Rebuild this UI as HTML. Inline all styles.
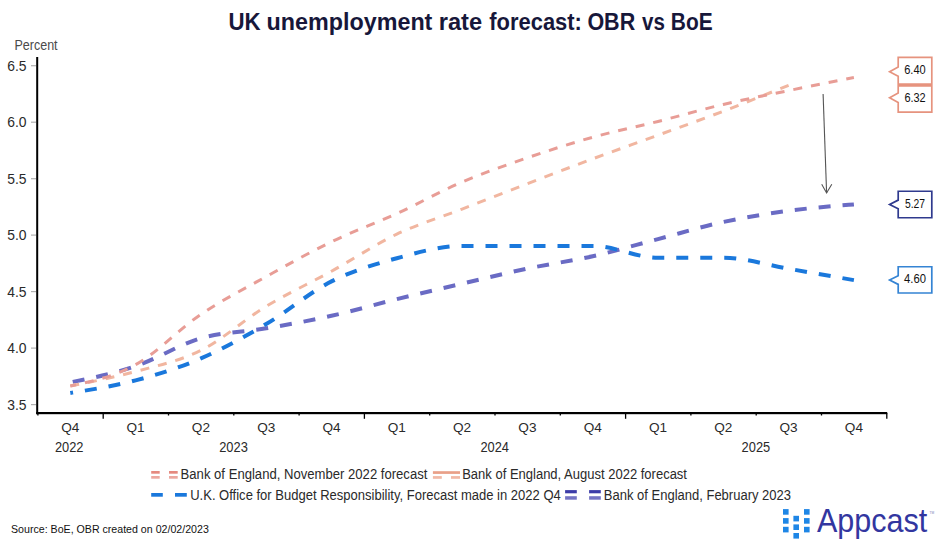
<!DOCTYPE html>
<html><head><meta charset="utf-8"><style>
html,body{margin:0;padding:0;background:#fff;width:941px;height:546px;overflow:hidden}
svg{display:block;font-family:"Liberation Sans", sans-serif}
</style></head><body>
<svg width="941" height="546" viewBox="0 0 941 546">
<text x="228.40" y="29.7" font-weight="bold" font-size="23.5" fill="#17173a" textLength="32.20" lengthAdjust="spacingAndGlyphs">UK</text>
<text x="266.60" y="29.7" font-weight="bold" font-size="23.5" fill="#17173a" textLength="165.80" lengthAdjust="spacingAndGlyphs">unemployment</text>
<text x="438.70" y="29.7" font-weight="bold" font-size="23.5" fill="#17173a" textLength="43.40" lengthAdjust="spacingAndGlyphs">rate</text>
<text x="489.30" y="29.7" font-weight="bold" font-size="23.5" fill="#17173a" textLength="92.60" lengthAdjust="spacingAndGlyphs">forecast:</text>
<text x="587.40" y="29.7" font-weight="bold" font-size="23.5" fill="#17173a" textLength="47.80" lengthAdjust="spacingAndGlyphs">OBR</text>
<text x="642.00" y="29.7" font-weight="bold" font-size="23.5" fill="#17173a" textLength="22.80" lengthAdjust="spacingAndGlyphs">vs</text>
<text x="670.80" y="29.7" font-weight="bold" font-size="23.5" fill="#17173a" textLength="41.80" lengthAdjust="spacingAndGlyphs">BoE</text>
<text x="14.4" y="49.8" font-size="14.2" fill="#4a4a4a" textLength="43.2" lengthAdjust="spacingAndGlyphs">Percent</text>
<line x1="31" y1="65.7" x2="36" y2="65.7" stroke="#b0b0b0" stroke-width="1.2"/>
<text x="26.6" y="70.6" text-anchor="end" font-size="13.9" fill="#2a2a2a">6.5</text>
<line x1="31" y1="122.2" x2="36" y2="122.2" stroke="#b0b0b0" stroke-width="1.2"/>
<text x="26.6" y="127.1" text-anchor="end" font-size="13.9" fill="#2a2a2a">6.0</text>
<line x1="31" y1="178.7" x2="36" y2="178.7" stroke="#b0b0b0" stroke-width="1.2"/>
<text x="26.6" y="183.6" text-anchor="end" font-size="13.9" fill="#2a2a2a">5.5</text>
<line x1="31" y1="235.1" x2="36" y2="235.1" stroke="#b0b0b0" stroke-width="1.2"/>
<text x="26.6" y="240.0" text-anchor="end" font-size="13.9" fill="#2a2a2a">5.0</text>
<line x1="31" y1="291.6" x2="36" y2="291.6" stroke="#b0b0b0" stroke-width="1.2"/>
<text x="26.6" y="296.5" text-anchor="end" font-size="13.9" fill="#2a2a2a">4.5</text>
<line x1="31" y1="348.1" x2="36" y2="348.1" stroke="#b0b0b0" stroke-width="1.2"/>
<text x="26.6" y="353.0" text-anchor="end" font-size="13.9" fill="#2a2a2a">4.0</text>
<line x1="31" y1="404.6" x2="36" y2="404.6" stroke="#b0b0b0" stroke-width="1.2"/>
<text x="26.6" y="409.5" text-anchor="end" font-size="13.9" fill="#2a2a2a">3.5</text>
<rect x="36.2" y="57" width="2" height="357.2" fill="#000"/>
<rect x="36.2" y="412" width="851" height="2.2" fill="#000"/>
<line x1="37.9" y1="413" x2="37.9" y2="415.5" stroke="#000" stroke-width="1.3"/>
<line x1="103.2" y1="413" x2="103.2" y2="418.8" stroke="#000" stroke-width="1.3"/>
<line x1="168.5" y1="413" x2="168.5" y2="415.5" stroke="#000" stroke-width="1.3"/>
<line x1="233.8" y1="413" x2="233.8" y2="415.5" stroke="#000" stroke-width="1.3"/>
<line x1="299.1" y1="413" x2="299.1" y2="415.5" stroke="#000" stroke-width="1.3"/>
<line x1="364.4" y1="413" x2="364.4" y2="418.8" stroke="#000" stroke-width="1.3"/>
<line x1="429.7" y1="413" x2="429.7" y2="415.5" stroke="#000" stroke-width="1.3"/>
<line x1="495.0" y1="413" x2="495.0" y2="415.5" stroke="#000" stroke-width="1.3"/>
<line x1="560.3" y1="413" x2="560.3" y2="415.5" stroke="#000" stroke-width="1.3"/>
<line x1="625.6" y1="413" x2="625.6" y2="418.8" stroke="#000" stroke-width="1.3"/>
<line x1="690.9" y1="413" x2="690.9" y2="415.5" stroke="#000" stroke-width="1.3"/>
<line x1="756.2" y1="413" x2="756.2" y2="415.5" stroke="#000" stroke-width="1.3"/>
<line x1="821.5" y1="413" x2="821.5" y2="415.5" stroke="#000" stroke-width="1.3"/>
<line x1="886.8" y1="413" x2="886.8" y2="418.8" stroke="#000" stroke-width="1.3"/>
<text x="70.3" y="432.4" text-anchor="middle" font-size="13.6" fill="#2a2a2a">Q4</text>
<text x="135.6" y="432.4" text-anchor="middle" font-size="13.6" fill="#2a2a2a">Q1</text>
<text x="200.9" y="432.4" text-anchor="middle" font-size="13.6" fill="#2a2a2a">Q2</text>
<text x="266.2" y="432.4" text-anchor="middle" font-size="13.6" fill="#2a2a2a">Q3</text>
<text x="331.5" y="432.4" text-anchor="middle" font-size="13.6" fill="#2a2a2a">Q4</text>
<text x="396.8" y="432.4" text-anchor="middle" font-size="13.6" fill="#2a2a2a">Q1</text>
<text x="462.1" y="432.4" text-anchor="middle" font-size="13.6" fill="#2a2a2a">Q2</text>
<text x="527.4" y="432.4" text-anchor="middle" font-size="13.6" fill="#2a2a2a">Q3</text>
<text x="592.7" y="432.4" text-anchor="middle" font-size="13.6" fill="#2a2a2a">Q4</text>
<text x="658.0" y="432.4" text-anchor="middle" font-size="13.6" fill="#2a2a2a">Q1</text>
<text x="723.3" y="432.4" text-anchor="middle" font-size="13.6" fill="#2a2a2a">Q2</text>
<text x="788.6" y="432.4" text-anchor="middle" font-size="13.6" fill="#2a2a2a">Q3</text>
<text x="853.9" y="432.4" text-anchor="middle" font-size="13.6" fill="#2a2a2a">Q4</text>
<text x="54.9" y="452" font-size="14.3" fill="#2a2a2a" textLength="28.6" lengthAdjust="spacingAndGlyphs">2022</text>
<text x="219.2" y="452" font-size="14.3" fill="#2a2a2a" textLength="28.6" lengthAdjust="spacingAndGlyphs">2023</text>
<text x="480.4" y="452" font-size="14.3" fill="#2a2a2a" textLength="28.6" lengthAdjust="spacingAndGlyphs">2024</text>
<text x="741.6" y="452" font-size="14.3" fill="#2a2a2a" textLength="28.6" lengthAdjust="spacingAndGlyphs">2025</text>
<path d="M70.30,382.41 C92.07,377.97 113.83,373.54 135.60,366.17 C157.37,358.80 179.13,344.50 200.90,338.20 C222.67,331.89 244.43,332.06 266.20,328.33 C287.97,324.60 309.73,320.69 331.50,315.82 C353.27,310.94 375.03,304.44 396.80,299.09 C418.57,293.74 440.33,288.80 462.10,283.71 C483.87,278.62 505.63,273.14 527.40,268.56 C549.17,263.98 570.93,261.12 592.70,256.21 C614.47,251.30 636.23,244.79 658.00,239.08 C679.77,233.38 701.53,226.67 723.30,221.96 C745.07,217.25 766.83,213.73 788.60,210.81 C810.37,207.89 832.13,206.16 853.90,204.44" fill="none" stroke="#6a6bc4" stroke-width="4" stroke-dasharray="12 12" stroke-dashoffset="21.5"/>
<path d="M70.30,392.95 C92.07,389.52 113.83,386.09 135.60,380.34 C157.37,374.59 179.13,367.84 200.90,358.45 C222.67,349.07 244.43,336.88 266.20,324.04 C287.97,311.20 309.73,292.37 331.50,281.40 C353.27,270.43 375.03,264.14 396.80,258.22 C418.57,252.30 440.33,245.90 462.10,245.90 C483.87,245.90 505.63,245.90 527.40,245.90 C549.17,245.90 570.93,245.90 592.70,245.90 C614.47,245.90 636.23,257.74 658.00,257.74 C679.77,257.74 701.53,257.74 723.30,257.74 C745.07,257.74 766.83,265.02 788.60,268.75 C810.37,272.48 832.13,276.30 853.90,280.12" fill="none" stroke="#1a78dc" stroke-width="4" stroke-dasharray="12 12" stroke-dashoffset="9.2"/>
<path d="M70.30,385.89 C92.07,381.66 113.83,377.42 135.60,371.50 C157.37,365.59 179.13,361.27 200.90,350.40 C222.67,339.54 244.43,319.49 266.20,306.30 C287.97,293.10 309.73,283.25 331.50,271.23 C353.27,259.21 375.03,244.53 396.80,234.17 C418.57,223.81 440.33,217.46 462.10,209.05 C483.87,200.65 505.63,192.11 527.40,183.74 C549.17,175.37 570.93,166.92 592.70,158.84 C614.47,150.75 636.23,143.15 658.00,135.21 C679.77,127.27 701.53,119.52 723.30,111.20 C745.07,102.88 766.83,94.09 788.60,85.30" fill="none" stroke="#f1b6a0" stroke-width="3" stroke-dasharray="9 9"/>
<path d="M70.30,386.09 C92.07,381.37 113.83,376.65 135.60,364.69 C157.37,352.73 179.13,329.03 200.90,314.35 C222.67,299.68 244.43,288.73 266.20,276.64 C287.97,264.54 309.73,252.29 331.50,241.78 C353.27,231.26 375.03,223.52 396.80,213.57 C418.57,203.62 440.33,191.37 462.10,182.07 C483.87,172.78 505.63,165.27 527.40,157.80 C549.17,150.33 570.93,143.30 592.70,137.24 C614.47,131.18 636.23,126.91 658.00,121.43 C679.77,115.96 701.53,109.56 723.30,104.42 C745.07,99.28 766.83,95.08 788.60,90.60 C810.37,86.12 832.13,81.82 853.90,77.52" fill="none" stroke="#e89d96" stroke-width="3" stroke-dasharray="9 9" stroke-dashoffset="3"/>
<line x1="823.1" y1="94" x2="826.6" y2="193" stroke="#555" stroke-width="1.1"/>
<polyline points="821.7,184.2 826.6,193 831.8,184.2" fill="none" stroke="#555" stroke-width="1.1"/>
<path d="M898.2,57.4 L931.8,57.4 L931.8,84.2 L898.2,84.2 L898.2,76.3 L889.6,71.7 L898.2,67.10000000000001 Z" fill="#fff" stroke="#e6937e" stroke-width="1.7"/>
<text x="904.2" y="74.3" font-size="12" fill="#111" textLength="21.5" lengthAdjust="spacingAndGlyphs">6.40</text>
<path d="M898.2,85.8 L931.8,85.8 L931.8,112.1 L898.2,112.1 L898.2,102.5 L889.6,97.7 L898.2,92.9 Z" fill="#fff" stroke="#e6937e" stroke-width="1.7"/>
<text x="904.4" y="102.4" font-size="12" fill="#111" textLength="21.3" lengthAdjust="spacingAndGlyphs">6.32</text>
<path d="M898.2,191.25 L931.8,191.25 L931.8,217.75 L898.2,217.75 L898.2,208.70000000000002 L889.6,204.4 L898.2,200.1 Z" fill="#fff" stroke="#2f3a8e" stroke-width="1.7"/>
<text x="905.0" y="208.0" font-size="12" fill="#111" textLength="20.1" lengthAdjust="spacingAndGlyphs">5.27</text>
<path d="M898.2,266.75 L931.8,266.75 L931.8,293 L898.2,293 L898.2,284.40000000000003 L889.6,280.1 L898.2,275.8 Z" fill="#fff" stroke="#3584d4" stroke-width="1.7"/>
<text x="904.0" y="283.4" font-size="12" fill="#111" textLength="21.9" lengthAdjust="spacingAndGlyphs">4.60</text>
<rect x="151.2" y="471" width="8.5" height="2.7" fill="#e58a80"/><rect x="151.2" y="476" width="8.5" height="2.7" fill="#eca8a0"/>
<rect x="169" y="471" width="8.7" height="2.7" fill="#e58a80"/><rect x="169" y="476" width="8.7" height="2.7" fill="#eca8a0"/>
<text x="180.6" y="478.9" font-size="13.8" fill="#2a2a2a" textLength="246.8" lengthAdjust="spacingAndGlyphs">Bank of England, November 2022 forecast</text>
<rect x="432.9" y="471.2" width="27.1" height="2.7" fill="#e9a088"/><rect x="432.9" y="476.1" width="8.9" height="2.7" fill="#f1b9a6"/><rect x="451" y="476.1" width="9" height="2.7" fill="#f1b9a6"/>
<text x="462.2" y="478.9" font-size="13.8" fill="#2a2a2a" textLength="224.8" lengthAdjust="spacingAndGlyphs">Bank of England, August 2022 forecast</text>
<rect x="151.2" y="493" width="11.6" height="3.7" fill="#1a78dc"/><rect x="175" y="493" width="11.8" height="3.7" fill="#1a78dc"/>
<text x="190.2" y="499.9" font-size="13.8" fill="#2a2a2a" textLength="370.6" lengthAdjust="spacingAndGlyphs">U.K. Office for Budget Responsibility, Forecast made in 2022 Q4</text>
<rect x="565.1" y="490.1" width="11.7" height="3.2" fill="#3c3ca8"/><rect x="565.1" y="496.2" width="11.7" height="3.5" fill="#7474c4"/>
<rect x="589.1" y="490.1" width="11.7" height="3.2" fill="#3c3ca8"/><rect x="589.1" y="496.2" width="11.7" height="3.5" fill="#7474c4"/>
<text x="603.8" y="499.9" font-size="13.8" fill="#2a2a2a" textLength="187.2" lengthAdjust="spacingAndGlyphs">Bank of England, February 2023</text>
<text x="11.0" y="533" font-size="11" fill="#111" textLength="197.8" lengthAdjust="spacingAndGlyphs">Source: BoE, OBR created on 02/02/2023</text>
<rect x="783.0" y="509.1" width="5.6" height="5.6" fill="#1e86e6"/>
<rect x="783.0" y="518.1" width="5.6" height="5.6" fill="#1e86e6"/>
<rect x="783.0" y="526.8" width="5.6" height="5.6" fill="#1e86e6"/>
<rect x="804.0" y="509.1" width="5.6" height="5.6" fill="#1e86e6"/>
<rect x="804.0" y="518.1" width="5.6" height="5.6" fill="#1e86e6"/>
<rect x="804.0" y="526.8" width="5.6" height="5.6" fill="#1e86e6"/>
<rect x="793.4" y="515.8" width="5.6" height="5.6" fill="#1e86e6"/>
<rect x="793.4" y="524.4" width="5.6" height="5.6" fill="#1e86e6"/>
<rect x="793.4" y="533.0" width="5.6" height="5.6" fill="#1e86e6"/>
<text x="817.0" y="532.4" font-size="33" fill="#3236a0" textLength="110.3" lengthAdjust="spacingAndGlyphs">Appcast</text>
<text x="929.6" y="513.6" font-size="3.2" fill="#7a7cb8">TM</text>
</svg>
</body></html>
